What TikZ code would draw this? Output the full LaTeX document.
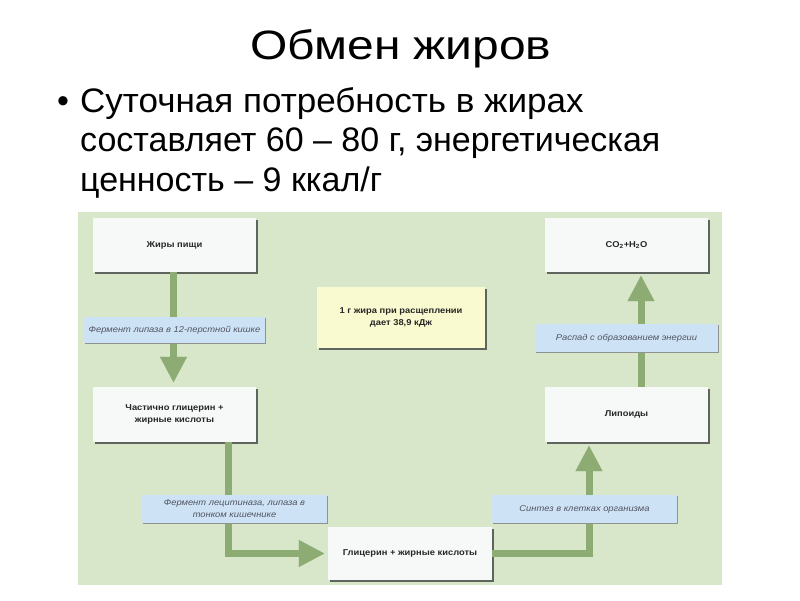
\documentclass[tikz,border=0pt]{standalone}
\usepackage{fontspec}
\setmainfont{Liberation Sans}
\usetikzlibrary{arrows.meta}
\definecolor{panel}{RGB}{216,230,202}
\definecolor{boxfill}{RGB}{247,249,249}
\definecolor{shadowc}{RGB}{95,100,95}
\definecolor{labblue}{RGB}{206,226,246}
\definecolor{yel}{RGB}{250,250,208}
\definecolor{arrg}{RGB}{140,172,116}
\definecolor{arrgl}{RGB}{168,196,148}
\definecolor{labtext}{RGB}{80,84,95}
\newcommand{\wtxt}[1]{\scalebox{1.1}[1]{\begin{tabular}{@{}c@{}}#1\end{tabular}}}
\tikzset{
  box/.style={draw=none, fill=boxfill, minimum width=163pt, minimum height=54pt,
    inner sep=0pt, align=center, font=\fontsize{8.5}{12}\selectfont\bfseries, text=black!85},
  lab/.style={fill=labblue, minimum height=27pt, inner sep=0pt, align=center,
    font=\fontsize{8.5}{12}\selectfont\itshape, text=labtext},
  flow/.style={draw=arrg, line width=7pt, -{Triangle[length=26pt,width=25pt]}},
  flowsh/.style={draw=arrgl, line width=7pt, -{Triangle[length=26pt,width=25pt]}},
  bigtext/.style={font=\fontsize{34}{34}\selectfont, anchor=base west, inner sep=0pt},
}
\begin{document}
\begin{tikzpicture}[x=1pt,y=-1pt]
\useasboundingbox (0,0) rectangle (800,600);
\fill[white] (0,0) rectangle (800,600);
% title
\node[font=\fontsize{41}{41}\selectfont, anchor=base, inner sep=0pt] (title) at (401,59.5) {\scalebox{1.17}[1]{Обмен жиров}};
\node[font=\fontsize{34}{34}\selectfont, anchor=base, inner sep=0pt] (bul) at (63,112) {•};
\node[bigtext] (l1) at (80,112) {\scalebox{1.03}[1]{Суточная потребность в жирах}};
\node[bigtext] (l2) at (80,151.5) {составляет 60 – 80 г, энергетическая};
\node[bigtext] (l3) at (80,191) {ценность – 9 ккал/г};
% panel
\fill[panel] (78,212) rectangle (722,585);
% box shadows
\foreach \x/\y/\w/\h in {93/218/163/54, 93/387/163/55, 328/527/164/53, 545/387/163/55, 545/218/163/54, 317/287/168/61}
  \fill[shadowc] (\x+1.5,\y+1.5) rectangle (\x+\w+1.5,\y+\h+1.5);
% boxes
\node[box] (fat) at (174.5,245) {\wtxt{Жиры пищи}};
\node[box, minimum height=55pt] (part) at (174.5,414.5) {\wtxt{Частично глицерин +\\жирные кислоты}};
\node[box, minimum width=164pt, minimum height=53pt] (glyc) at (410,553.5) {\wtxt{Глицерин + жирные кислоты}};
\node[box, minimum height=55pt] (lip) at (626.5,414.5) {\wtxt{Липоиды}};
\node[box] (co2) at (626.5,245) {\wtxt{CO\textsubscript{2}+H\textsubscript{2}O}};
\node[box, fill=yel, minimum width=168pt, minimum height=61pt] (energy) at (401,317.5) {\wtxt{1 г жира при расщеплении\\дает 38,9 кДж}};
% arrows (light offset band, then main stroke)
\begin{scope}[shift={(2,2)}]
\draw[flowsh, shorten >=4pt] ([xshift=-1pt]fat.south) -- ([xshift=-1pt]part.north);
\draw[flowsh, shorten >=3pt] ([xshift=54pt]part.south) |- (glyc.west);
\draw[flowsh, shorten >=3pt] (glyc.east) -| ([xshift=-37.5pt]lip.south);
\draw[flowsh, shorten >=3pt] ([xshift=14.5pt]lip.north) -- ([xshift=14.5pt]co2.south);
\end{scope}
\draw[flow, shorten >=4pt] ([xshift=-1pt]fat.south) -- ([xshift=-1pt]part.north);
\draw[flow, shorten >=3pt] ([xshift=54pt]part.south) |- (glyc.west);
\draw[flow, shorten >=3pt] (glyc.east) -| ([xshift=-37.5pt]lip.south);
\draw[flow, shorten >=3pt] ([xshift=14.5pt]lip.north) -- ([xshift=14.5pt]co2.south);
% label shadows
\foreach \x/\y/\w/\h in {84/317/181/26, 142/495/185/28, 492/495/185/28, 535/324/183/28}
  \fill[shadowc!70] (\x+1.2,\y+1.2) rectangle (\x+\w+1.2,\y+\h+1.2);
% labels
\node[lab, minimum width=181pt, minimum height=26pt] (lab1) at (174.5,330) {\wtxt{Фермент липаза в 12-перстной кишке}};
\node[lab, minimum width=185pt, minimum height=28pt] (lab2) at (234.5,509) {\wtxt{Фермент лецитиназа, липаза в\\тонком кишечнике}};
\node[lab, minimum width=185pt, minimum height=28pt] (lab3) at (584.5,509) {\wtxt{Синтез в клетках организма}};
\node[lab, minimum width=183pt, minimum height=28pt] (lab4) at (626.5,338) {\wtxt{Распад с образованием энергии}};
\end{tikzpicture}
\end{document}
